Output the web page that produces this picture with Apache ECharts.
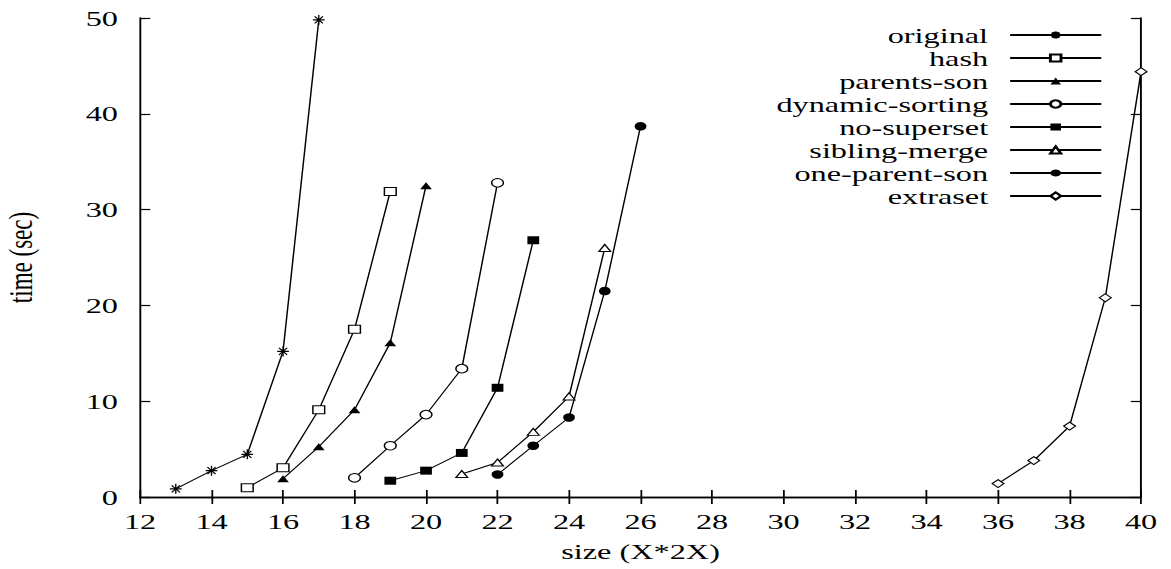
<!DOCTYPE html>
<html>
<head>
<meta charset="utf-8">
<script src="https://cdn.jsdelivr.net/npm/echarts@6/dist/echarts.min.js"></script>
<style>
  html, body { margin: 0; padding: 0; background: #fff; overflow: hidden; }
  /* the original figure is stretched sideways, so draw narrow and widen it */
  #main { width: 797px; height: 569px; transform: scaleX(1.4693); transform-origin: 0 0; }
</style>
</head>
<body>
<div id="main"></div>
<script>
// values: [size, time]
const original = [[13, 0.85], [14, 2.75], [15, 4.45], [16, 15.2], [17, 49.8]];
const hash = [[15, 0.97], [16, 3.05], [17, 9.1], [18, 17.5], [19, 31.9]];
const parentsSon = [[16, 1.9], [17, 5.25], [18, 9.1], [19, 16.1], [20, 32.5]];
const dynamicSorting = [[18, 2.0], [19, 5.35], [20, 8.6], [21, 13.4], [22, 32.8]];
const noSuperset = [[19, 1.7], [20, 2.75], [21, 4.6], [22, 11.4], [23, 26.8]];
const siblingMerge = [[21, 2.4], [22, 3.6], [23, 6.8], [24, 10.5], [25, 26.0]];
const oneParentSon = [[22, 2.35], [23, 5.35], [24, 8.3], [25, 21.5], [26, 38.7]];
const extraset = [[36, 1.4], [37, 3.8], [38, 7.4], [39, 20.8], [40, 44.4]];

const names = ['original', 'hash', 'parents-son', 'dynamic-sorting', 'no-superset',
  'sibling-merge', 'one-parent-son', 'extraset'];

const font = '"Liberation Serif", "DejaVu Serif", serif';
const star = 'path://M0,5L10,5M5,0L5,10M1.5,1.5L8.5,8.5M1.5,8.5L8.5,1.5';

function mk(name, data, symbol, size, hollow) {
  return {
    name: name,
    type: 'line',
    data: data,
    symbol: symbol,
    symbolSize: size,
    showAllSymbol: true,
    animation: false,
    lineStyle: { color: '#000', width: 1 },
    itemStyle: hollow
      ? { color: '#fff', borderColor: '#000', borderWidth: 1 }
      : { color: '#000', borderColor: '#000', borderWidth: 0 },
    emphasis: { disabled: true }
  };
}

const chart = echarts.init(document.getElementById('main'), null, { renderer: 'svg' });

const axisBase = {
  type: 'value',
  axisLine: { show: true, lineStyle: { color: '#000', width: 1.3 } },
  axisTick: { show: true, inside: true, length: 7, lineStyle: { color: '#000', width: 1.2 } },
  splitLine: { show: false }
};

chart.setOption({
  backgroundColor: '#fff',
  animation: false,
  grid: { left: 95.3, right: 20.4, top: 18, bottom: 72, outerBoundsMode: 'none', containLabel: false },
  legend: {
    orient: 'vertical',
    align: 'right',
    right: 41.5,
    top: 19,
    itemWidth: 62,
    itemHeight: 9,
    itemGap: 1,
    selectedMode: false,
    textStyle: { fontFamily: font, fontSize: 22, color: '#000', lineHeight: 21.8, padding: [0, 10, 0, 0] },
    data: names
  },
  xAxis: [
    Object.assign({}, axisBase, {
      min: 12, max: 40, interval: 2,
      name: 'size (X*2X)',
      nameLocation: 'middle',
      nameGap: 43,
      nameTextStyle: { fontFamily: font, fontSize: 22, color: '#000' },
      axisLabel: { fontFamily: font, fontSize: 22, color: '#000', margin: 13 }
    }),
    Object.assign({}, axisBase, {
      position: 'top',
      min: 12, max: 40, interval: 2,
      axisLabel: { show: false }
    })
  ],
  yAxis: [
    Object.assign({}, axisBase, {
      min: 0, max: 50, interval: 10,
      name: 'time (sec)',
      nameLocation: 'middle',
      nameGap: 70,
      nameRotate: 90,
      nameTextStyle: { fontFamily: font, fontSize: 23, color: '#000' },
      axisLabel: { fontFamily: font, fontSize: 22, color: '#000', margin: 15 }
    }),
    Object.assign({}, axisBase, {
      position: 'right',
      min: 0, max: 50, interval: 10,
      axisLabel: { show: false }
    })
  ],
  series: [
    mk('original', original, star, [8, 10], true),
    mk('hash', hash, 'rect', 8, true),
    mk('parents-son', parentsSon, 'triangle', [8, 7], false),
    mk('dynamic-sorting', dynamicSorting, 'circle', [8, 8.5], true),
    mk('no-superset', noSuperset, 'rect', [8, 8], false),
    mk('sibling-merge', siblingMerge, 'triangle', [8, 7], true),
    mk('one-parent-son', oneParentSon, 'circle', [8, 8.5], false),
    mk('extraset', extraset, 'diamond', [8, 8], true)
  ]
});
</script>
</body>
</html>
